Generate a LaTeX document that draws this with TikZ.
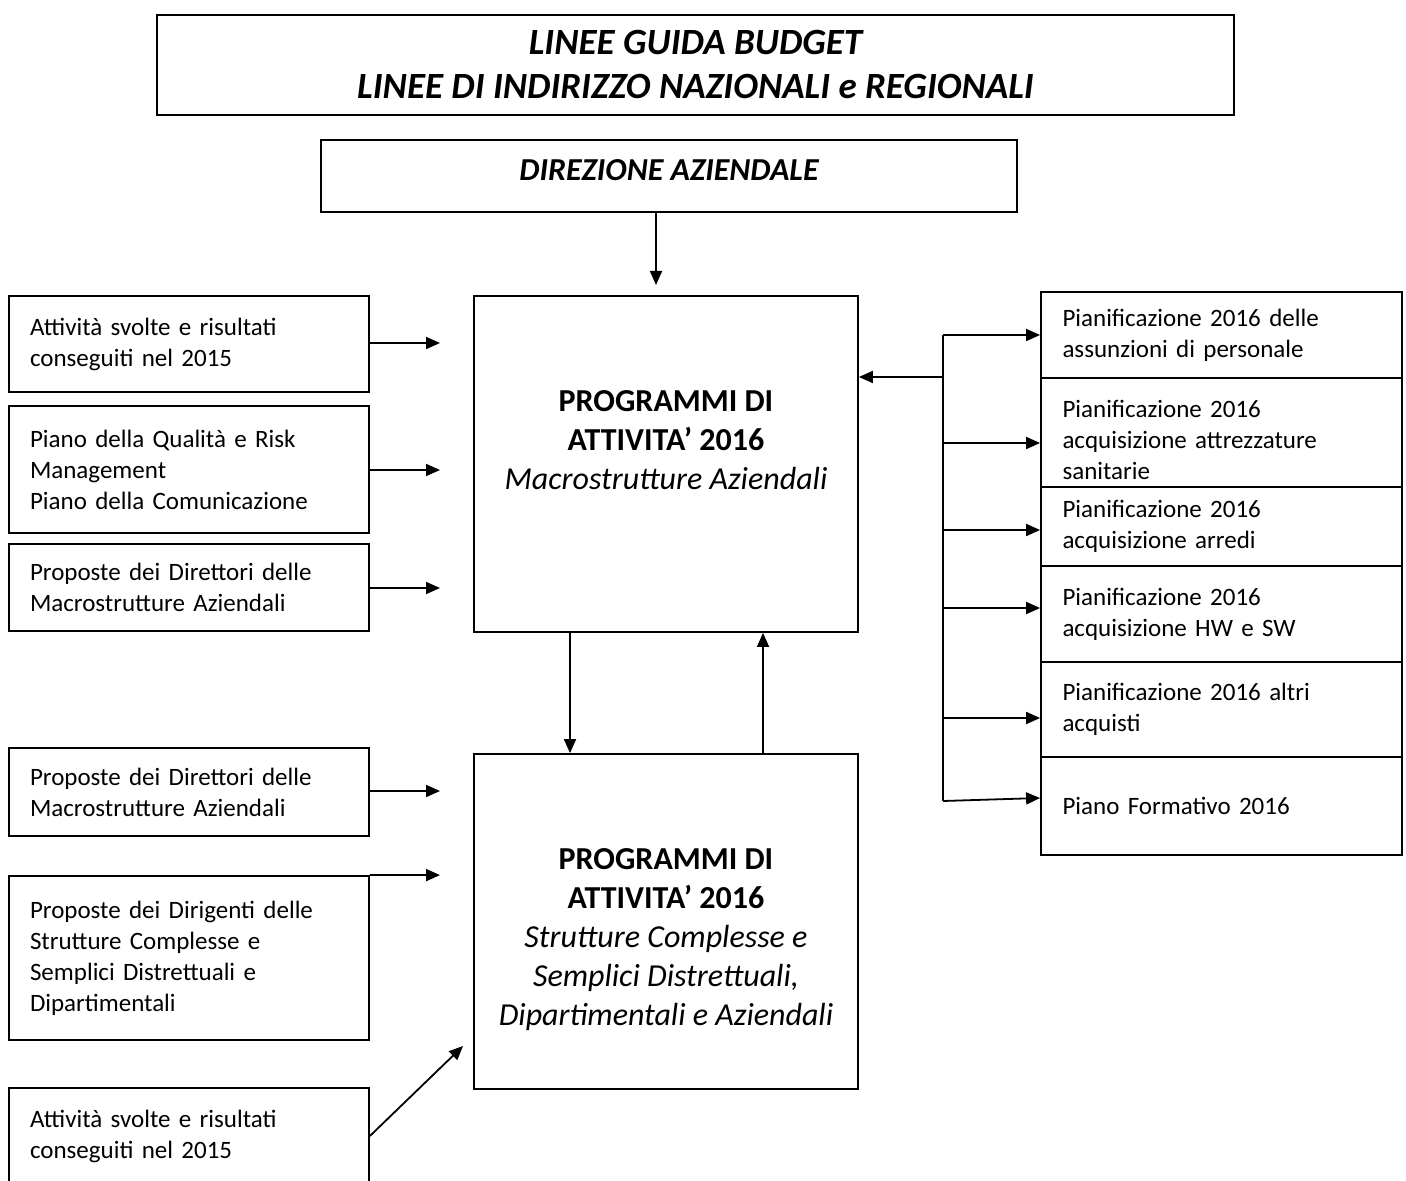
\documentclass[tikz,border=0pt]{standalone}
\usepackage{fontspec}
\setmainfont{Carlito}
\usetikzlibrary{arrows.meta}
\begin{document}
\begin{tikzpicture}[x=0.5pt,y=-0.5pt,
  box/.style={draw=black,line width=0.9pt,inner sep=0pt,minimum width=180pt},
  lbox/.style={box,align=left,text width=159pt,font=\fontsize{12.5}{15.5}\selectfont},
  rbox/.style={box,minimum width=180.5pt,align=left,text width=159pt,font=\fontsize{12.5}{15.5}\selectfont},
  bigbox/.style={draw=black,line width=0.9pt,minimum width=192pt},
  bigtxt/.style={align=center,font=\fontsize{16}{19.5}\selectfont},
  arr/.style={line width=0.9pt,-{Triangle[length=7pt,width=6pt]}},
  ln/.style={line width=0.9pt}]
\useasboundingbox (0,0) rectangle (1406,1181);
% top boxes
\node[box,minimum width=538.5pt,minimum height=50pt,align=center,
  font=\fontsize{18.5}{22}\selectfont\bfseries\itshape] (title) at (695.5,65)
  {LINEE GUIDA BUDGET\\LINEE DI INDIRIZZO NAZIONALI e REGIONALI};
\node[box,minimum width=348pt,minimum height=36pt] (dir) at (669,176) {};
\node[font=\fontsize{16}{19.5}\selectfont\bfseries\itshape] (dirtxt) at (669,170) {DIREZIONE AZIENDALE};
% central boxes
\node[bigbox,minimum height=168pt] (m1) at (666,464) {};
\node[bigtxt] (m1txt) at (666,440) {\textbf{PROGRAMMI DI}\\\textbf{ATTIVITA’ 2016}\\\textit{Macrostrutture Aziendali}};
\node[bigbox,minimum height=167.5pt] (m2) at (666,921.5) {};
\node[bigtxt] (m2txt) at (666,940) {\textbf{PROGRAMMI DI}\\\textbf{ATTIVITA’ 2016}\\\textit{Strutture Complesse e}\\\textit{Semplici Distrettuali,}\\\textit{Dipartimentali e Aziendali}};
% left boxes
\node[lbox,minimum height=48pt] (l1) at (189,344) {Attività svolte e risultati\\conseguiti nel 2015};
\node[lbox,minimum height=63.5pt] (l2) at (189,469.5) {Piano della Qualità e Risk\\Management\\Piano della Comunicazione};
\node[lbox,minimum height=43.5pt] (l3) at (189,587.5) {Proposte dei Direttori delle\\Macrostrutture Aziendali};
\node[lbox,minimum height=44pt] (l4) at (189,792) {Proposte dei Direttori delle\\Macrostrutture Aziendali};
\node[lbox,minimum height=82pt] (l5) at (189,958) {Proposte dei Dirigenti delle\\Strutture Complesse e\\Semplici Distrettuali e\\Dipartimentali};
\node[lbox,minimum height=48pt] (l6) at (189,1136) {Attività svolte e risultati\\conseguiti nel 2015};
% right boxes
\node[rbox,minimum height=43pt] (r1) at (1221.5,335) {Pianificazione 2016 delle\\assunzioni di personale};
\node[rbox,minimum height=54.5pt] (r2) at (1221.5,432.5) {\rule{0pt}{16pt}Pianificazione 2016\\acquisizione attrezzature\\sanitarie};
\node[rbox,minimum height=39.5pt] (r3) at (1221.5,526.5) {Pianificazione 2016\\acquisizione arredi};
\node[rbox,minimum height=48pt] (r4) at (1221.5,614) {Pianificazione 2016\\acquisizione HW e SW\\[5pt]};
\node[rbox,minimum height=47.5pt] (r5) at (1221.5,709.5) {Pianificazione 2016 altri\\acquisti};
\node[rbox,minimum height=49pt] (r6) at (1221.5,806) {Piano Formativo 2016\\[9pt]};
% free ends
\coordinate (a1) at (440,343);
\coordinate (a2) at (440,470);
\coordinate (a3) at (440,588);
\coordinate (a4) at (440,791);
\coordinate (a5) at (440,876);
\coordinate (a6) at (463,1046);
\coordinate (d1) at (656,285);
% vertical arrows
\draw[arr] (dir.south -| d1) -- (d1);
\draw[arr] ([xshift=-48pt]m1.south) -- ([xshift=-48pt]m2.north);
\draw[arr] ([xshift=48.5pt]m2.north) -- ([xshift=48.5pt]m1.south);
% left arrows
\draw[arr] (l1.east |- a1) -- (a1);
\draw[arr] (l2.east |- a2) -- (a2);
\draw[arr] (l3.east |- a3) -- (a3);
\draw[arr] (l4.east |- a4) -- (a4);
\draw[arr] (l5.north east) -- (l5.north east -| a5);
\draw[arr] (l6.east) -- (a6);
% right bus
\coordinate (b0) at (943,377);
\coordinate (b1) at (943,335);
\coordinate (b2) at (943,443);
\coordinate (b3) at (943,530);
\coordinate (b4) at (943,608);
\coordinate (b5) at (943,718);
\coordinate (b6) at (943,801);
\draw[ln] (b1) -- (b6);
\draw[arr] (b0) -- (b0 -| m1.east);
\draw[arr] (b1) -- (b1 -| r1.west);
\draw[arr] (b2) -- (b2 -| r2.west);
\draw[arr] (b3) -- (b3 -| r3.west);
\draw[arr] (b4) -- (b4 -| r4.west);
\draw[arr] (b5) -- (b5 -| r5.west);
\draw[arr] (b6) -- ([yshift=1.5pt]b6 -| r6.west);
\end{tikzpicture}
\end{document}
